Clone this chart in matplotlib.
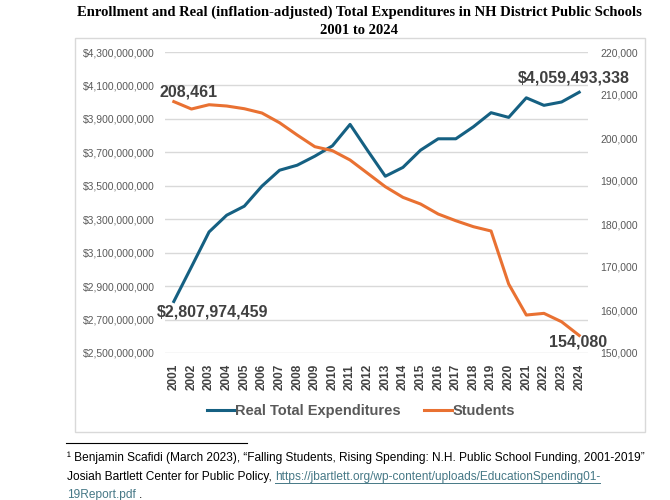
import matplotlib
matplotlib.use("Agg")
import matplotlib.pyplot as plt
import matplotlib.ticker as ticker
from matplotlib.patches import Rectangle
from matplotlib.lines import Line2D

# data
years = list(range(2001, 2025))
expenditures = [2807974459, 3015000000, 3224000000, 3324000000, 3378000000, 3498000000,
                3593000000, 3623000000, 3677000000, 3739000000, 3867000000, 3710000000,
                3557000000, 3610000000, 3713000000, 3781000000, 3781000000, 3853000000,
                3937000000, 3909000000, 4026000000, 3981000000, 4001000000, 4059493338]
students = [208461, 206740, 207740, 207440, 206810, 205810, 203550, 200690, 197980, 197050,
            194880, 191780, 188670, 186200, 184650, 182320, 180760, 179370, 178370, 166040,
            158830, 159220, 157270, 154080]
left_ticks = [2.5e9, 2.7e9, 2.9e9, 3.1e9, 3.3e9, 3.5e9, 3.7e9, 3.9e9, 4.1e9, 4.3e9]
right_ticks = [150000, 160000, 170000, 180000, 190000, 200000, 210000, 220000]
series_names = ["Real Total Expenditures", "Students"]

BLUE = "#156082"
ORANGE = "#E97132"
GRAY = "#595959"
DARK = "#404040"
LINK = "#467886"

W, H = 670, 500
fig = plt.figure(figsize=(6.7, 5), dpi=100)

# chart frame like the excel chart area
fig.patches.append(Rectangle((75 / W, 1 - 432 / H), 570 / W, 394 / H,
                             transform=fig.transFigure, fill=False,
                             edgecolor="#D9D9D9", linewidth=1.0))

ax = fig.add_axes([165 / W, 1 - 353 / H, 423 / W, 301 / H])
ax2 = ax.twinx()

ax.plot(years, expenditures, color=BLUE, linewidth=2.2, zorder=3)
ax2.plot(years, students, color=ORANGE, linewidth=2.2, zorder=3)

ax.set_xlim(2000.5, 2024.5)
ax.set_ylim(left_ticks[0], left_ticks[-1])
ax2.set_ylim(right_ticks[0], right_ticks[-1])

ax.set_yticks(left_ticks)
ax.yaxis.set_major_formatter(ticker.FuncFormatter(lambda v, p: "${:,.0f}".format(v)))
ax2.set_yticks(right_ticks)
ax2.yaxis.set_major_formatter(ticker.FuncFormatter(lambda v, p: "{:,.0f}".format(v)))
ax.set_xticks(years)
ax.set_xticklabels([str(y) for y in years], rotation=90, fontweight="bold",
                   fontsize=8.5, color=DARK, family="Liberation Sans")

for a in (ax, ax2):
    for s in a.spines.values():
        s.set_visible(False)
    a.tick_params(length=0)
ax.tick_params(axis="y", labelsize=7.5, labelcolor=GRAY, pad=7.5)
ax2.tick_params(axis="y", labelsize=7.5, labelcolor=GRAY, pad=9)
ax.tick_params(axis="x", pad=8)
for lab in ax.get_yticklabels() + ax2.get_yticklabels():
    lab.set_family("Liberation Sans")
ax.grid(axis="y", color="#D9D9D9", linewidth=1.0)
ax.set_axisbelow(True)

# data labels on the first and last points
lab_kw = dict(textcoords="offset pixels", fontsize=11.5, fontweight="bold",
              color=DARK, family="Liberation Sans", ha="center", va="center")
ax2.annotate("{:,}".format(students[0]), (years[0], students[0]), xytext=(15, 10), **lab_kw)
ax2.annotate("{:,}".format(students[-1]), (years[-1], students[-1]), xytext=(-1, -7), **lab_kw)
ax.annotate("${:,}".format(expenditures[0]), (years[0], expenditures[0]), xytext=(39, -11), **lab_kw)
ax.annotate("${:,}".format(expenditures[-1]), (years[-1], expenditures[-1]), xytext=(-5, 14), **lab_kw)

# legend
handles = [Line2D([], [], color=BLUE, linewidth=2.2), Line2D([], [], color=ORANGE, linewidth=2.2)]
fig.legend(handles, series_names, loc="center", bbox_to_anchor=(361 / W, 1 - 411 / H),
           ncol=2, frameon=False, handlelength=1.9, handletextpad=0.05, columnspacing=1.6,
           prop={"family": "Liberation Sans", "size": 10.5, "weight": "bold"},
           labelcolor=GRAY)

# title
title_kw = dict(ha="center", va="center", fontsize=10.5, fontweight="bold",
                family="Liberation Serif", color="#000000")
fig.text(359 / W, 1 - 12 / H, "Enrollment and Real (inflation-adjusted) Total Expenditures in NH District Public Schools",
         **title_kw)
fig.text(359 / W, 1 - 30 / H, "2001 to 2024", **title_kw)

# footnote
fig.add_artist(Line2D([66 / W, 247 / W], [1 - 443 / H, 1 - 443 / H], color="#000000", linewidth=0.8))
foot_kw = dict(ha="left", va="center", fontsize=8.6, family="Liberation Sans", color="#000000")
fig.text(67 / W, 1 - 458 / H, "\u00b9 Benjamin Scafidi (March 2023), \u201cFalling Students, Rising Spending: N.H. Public School Funding, 2001-2019\u201d", **foot_kw)
t = fig.text(67 / W, 1 - 477 / H, "Josiah Bartlett Center for Public Policy, ", **foot_kw)
fig.canvas.draw()
x0 = t.get_window_extent().x1
link_kw = dict(foot_kw, color=LINK)
u1 = fig.text(x0 / W, 1 - 477 / H, "https://jbartlett.org/wp-content/uploads/EducationSpending01-", **link_kw)
u2 = fig.text(67 / W, 1 - 495 / H, "19Report.pdf", **link_kw)
fig.canvas.draw()
for u, yy in ((u1, 477), (u2, 495)):
    b = u.get_window_extent()
    fig.add_artist(Line2D([b.x0 / W, b.x1 / W], [1 - (yy + 6) / H] * 2, color=LINK, linewidth=0.7))
fig.text(u2.get_window_extent().x1 / W + 3 / W, 1 - 495 / H, ".", **foot_kw)

fig.savefig("out.png", dpi=100)
